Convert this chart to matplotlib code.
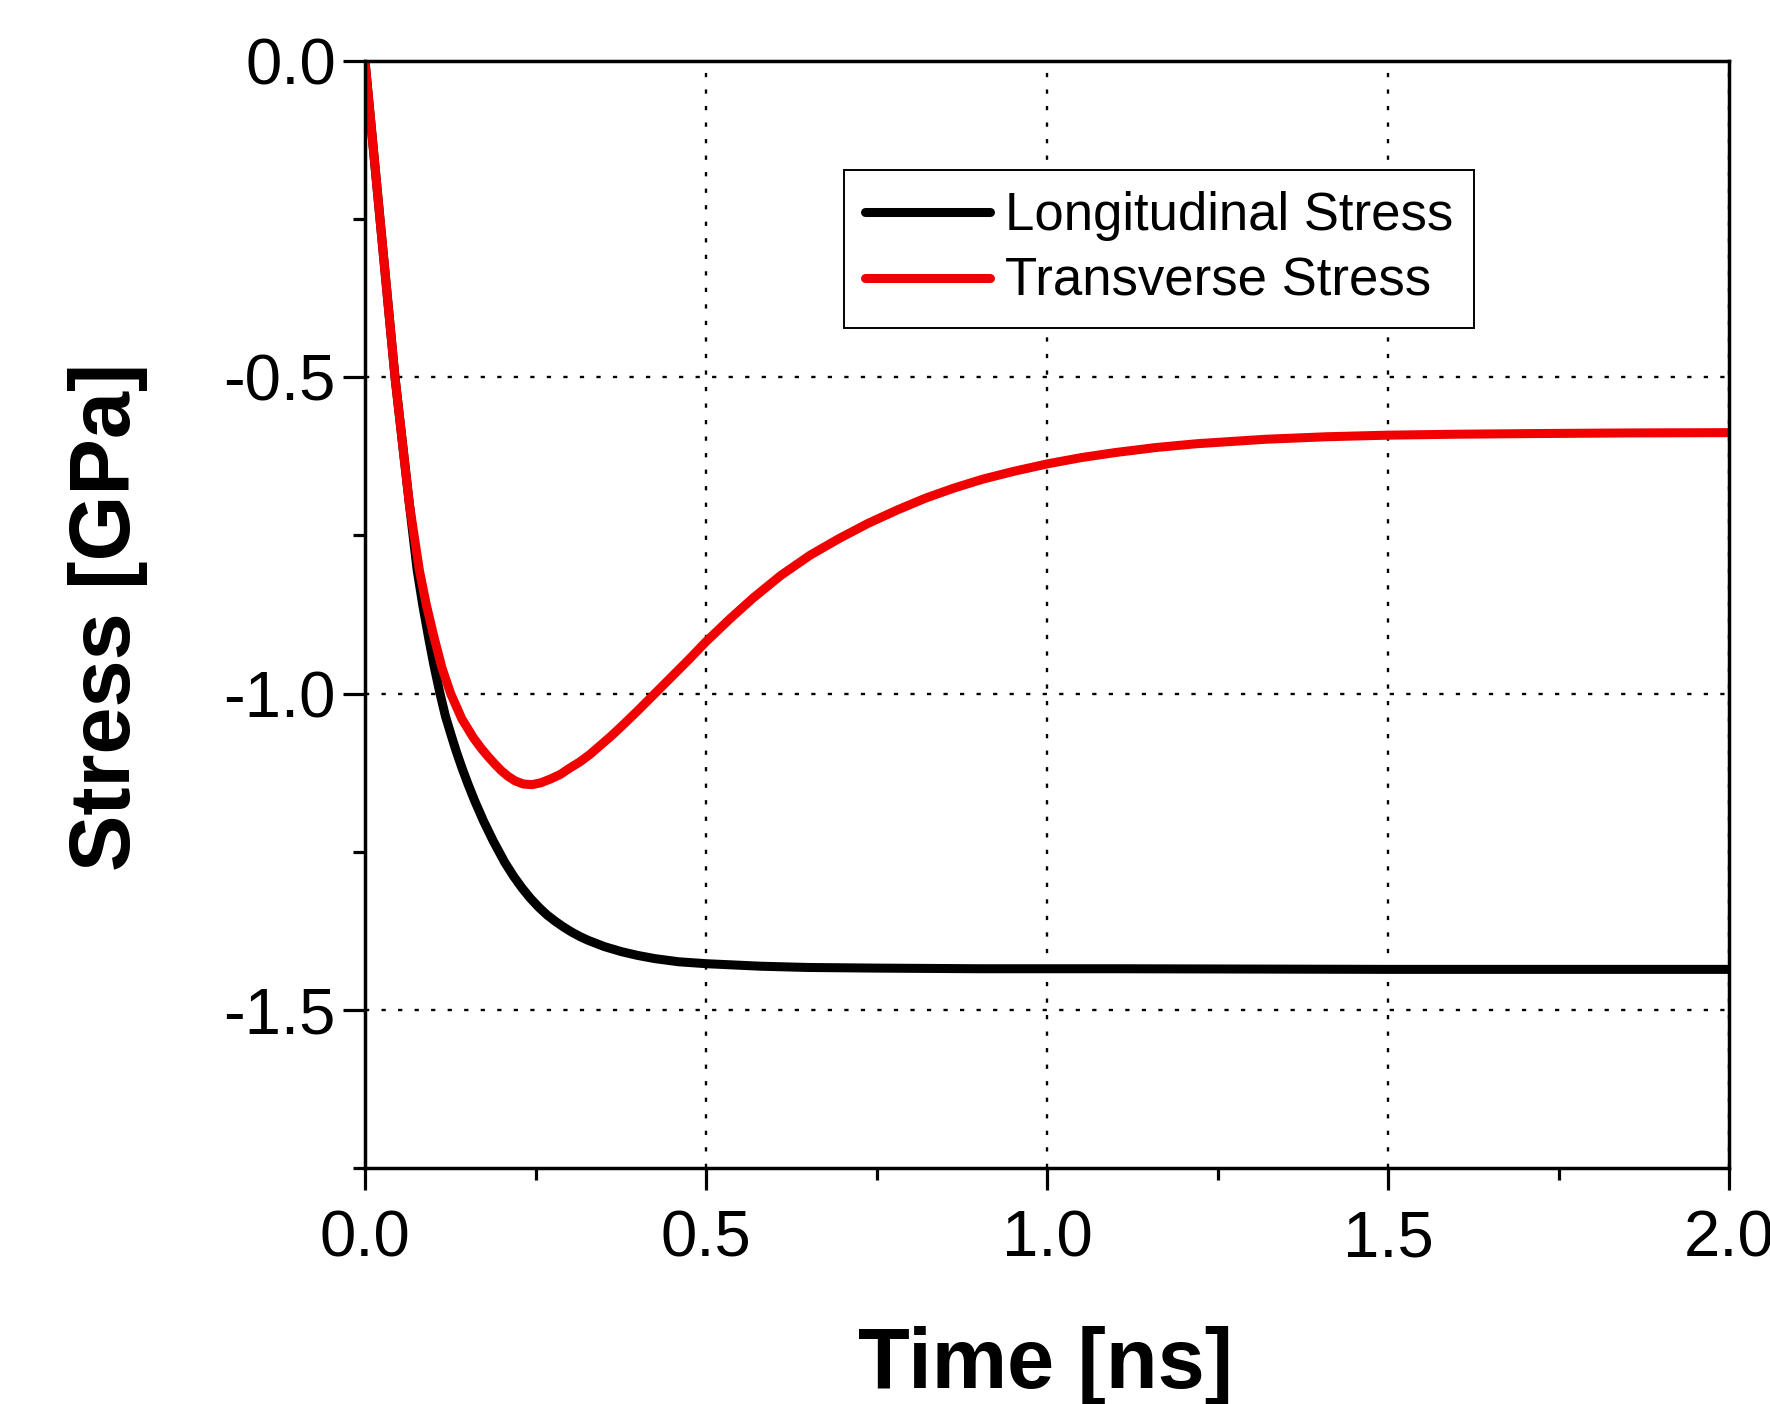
import matplotlib
matplotlib.use("Agg")
import matplotlib.pyplot as plt
from matplotlib.ticker import MultipleLocator, FormatStrFormatter

# values
time_long = [0, 0.022, 0.044, 0.0545, 0.065, 0.0765, 0.085, 0.093, 0.101, 0.110,
             0.118, 0.127, 0.134, 0.142, 0.151, 0.161, 0.174, 0.188, 0.205, 0.218,
             0.230, 0.242, 0.255, 0.267, 0.279, 0.291, 0.303, 0.315, 0.327, 0.351,
             0.376, 0.40, 0.425, 0.46, 0.50, 0.54, 0.58, 0.65, 0.75, 0.9, 1.1, 1.5, 2.0]
stress_long = [0, -0.25, -0.50, -0.60, -0.70, -0.805, -0.862, -0.910, -0.955, -1.0,
               -1.036, -1.068, -1.092, -1.117, -1.143, -1.170, -1.202, -1.233, -1.267, -1.289,
               -1.307, -1.323, -1.338, -1.350, -1.360, -1.369, -1.377, -1.384, -1.390, -1.400,
               -1.408, -1.414, -1.419, -1.424, -1.427, -1.429, -1.431, -1.433, -1.434, -1.435,
               -1.435, -1.436, -1.436]

time_trans = [0, 0.022, 0.044, 0.0545, 0.065, 0.0797, 0.09, 0.101, 0.113, 0.1256,
              0.142, 0.159, 0.170, 0.180, 0.19, 0.20, 0.21, 0.22, 0.232, 0.245,
              0.258, 0.272, 0.286, 0.300, 0.315, 0.330, 0.345, 0.360, 0.376, 0.40,
              0.425, 0.45, 0.475, 0.50, 0.535, 0.569, 0.61, 0.653, 0.695, 0.7375,
              0.78, 0.822, 0.864, 0.906, 0.95, 1.0, 1.05, 1.10, 1.16, 1.22,
              1.32, 1.41, 1.5, 1.6, 1.71, 1.85, 2.0]
stress_trans = [0, -0.25, -0.50, -0.60, -0.70, -0.805, -0.860, -0.910, -0.960, -1.0,
                -1.040, -1.070, -1.086, -1.099, -1.111, -1.122, -1.131, -1.138, -1.143, -1.144,
                -1.141, -1.135, -1.128, -1.118, -1.108, -1.096, -1.082, -1.068, -1.052, -1.027,
                -1.0, -0.973, -0.946, -0.918, -0.882, -0.849, -0.813, -0.781, -0.755, -0.731,
                -0.710, -0.691, -0.675, -0.661, -0.649, -0.637, -0.627, -0.619, -0.611, -0.605,
                -0.598, -0.594, -0.5915, -0.590, -0.589, -0.588, -0.5875]

labels = ["Longitudinal Stress", "Transverse Stress"]

fig = plt.figure(figsize=(17.7, 14.04), dpi=100)
ax = fig.add_axes([365 / 1770, 236 / 1404, 1364 / 1770, 1107 / 1404])

ax.plot(time_long, stress_long, color="black", lw=6.5, label=labels[0],
        solid_joinstyle="round", solid_capstyle="butt")
ax.plot(time_trans, stress_trans, color="#f00000", lw=6.5, label=labels[1],
        solid_joinstyle="round", solid_capstyle="butt")

ax.set_xlim(0, 2.0)
ax.set_ylim(-1.75, 0)
ax.xaxis.set_major_locator(MultipleLocator(0.5))
ax.xaxis.set_minor_locator(MultipleLocator(0.25))
ax.yaxis.set_major_locator(MultipleLocator(0.5))
ax.yaxis.set_minor_locator(MultipleLocator(0.25))
ax.xaxis.set_major_formatter(FormatStrFormatter("%.1f"))
ax.yaxis.set_major_formatter(FormatStrFormatter("%.1f"))

ax.grid(True, which="major", color="black", lw=1.7, linestyle=(0, (1.8, 5.2)))

for sp in ax.spines.values():
    sp.set_linewidth(2.5)

ax.tick_params(which="major", direction="out", length=16, width=2.3,
               labelsize=47, top=False, right=False)
ax.tick_params(which="minor", direction="out", length=8.6, width=2.3,
               top=False, right=False)
ax.tick_params(axis="x", which="major", pad=14)
ax.tick_params(axis="y", which="major", pad=5)
for lab in ax.get_xticklabels() + ax.get_yticklabels():
    lab.set_family("Liberation Sans")

leg = ax.legend(loc="upper left", bbox_to_anchor=(0.3512, 0.9015), borderaxespad=0,
                prop={"family": "Liberation Sans", "size": 38},
                frameon=True, fancybox=False, edgecolor="black", framealpha=1,
                handlelength=2.36, handletextpad=0.29, borderpad=0.4, labelspacing=0.3)
leg.get_frame().set_linewidth(1.4)
for line in leg.get_lines():
    line.set_linewidth(6.5)
    line.set_solid_capstyle("round")

fig.text(1045 / 1770, 16 / 1404, "Time [ns]", ha="center", va="baseline",
         fontsize=61, fontweight="bold", family="Liberation Sans")
fig.text(108 / 1770, 787 / 1404, "Stress [GPa]", ha="center", va="center",
         rotation=90, fontsize=61, fontweight="bold", family="Liberation Sans")

fig.savefig("out.png", dpi=100)
